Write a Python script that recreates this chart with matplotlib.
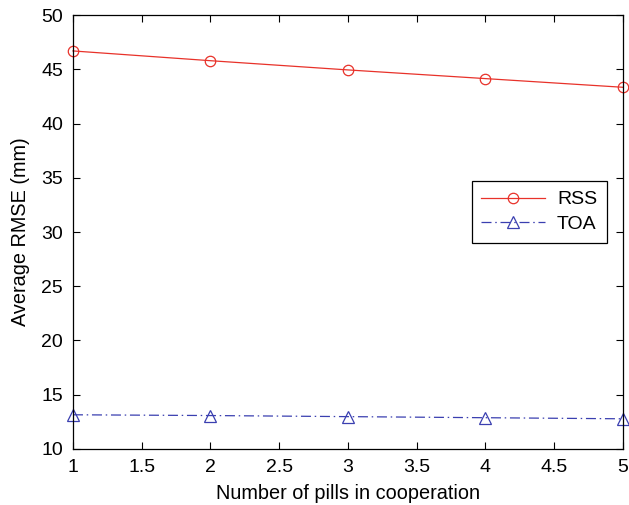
import matplotlib
matplotlib.use('Agg')
import matplotlib.pyplot as plt

plt.rcParams['font.family'] = ['Liberation Sans', 'DejaVu Sans']

pills = [1, 2, 3, 4, 5]
rss = [46.7, 45.8, 44.95, 44.15, 43.35]
toa = [13.15, 13.08, 12.98, 12.88, 12.78]

fig = plt.figure(figsize=(6.29, 5.05), dpi=100)
ax = fig.add_axes([0.116, 0.111, 0.874, 0.859])

ax.plot(pills, rss, color='#e8322a', linewidth=0.9, marker='o', markersize=7.5,
        markerfacecolor='none', markeredgecolor='#e8322a', markeredgewidth=0.9,
        label='RSS', clip_on=False)
ax.plot(pills, toa, color='#3a3fb0', linewidth=0.9, dashes=[8, 3, 1.2, 3],
        marker='^', markersize=8.5, markerfacecolor='none', markeredgecolor='#3a3fb0',
        markeredgewidth=0.9, label='TOA', clip_on=False)

ax.set_xlim(1, 5)
ax.set_ylim(10, 50)
ax.set_xticks([1, 1.5, 2, 2.5, 3, 3.5, 4, 4.5, 5])
ax.set_xticklabels(['1', '1.5', '2', '2.5', '3', '3.5', '4', '4.5', '5'])
ax.set_yticks(range(10, 51, 5))
ax.tick_params(direction='in', top=True, right=True, labelsize=14, length=5, width=0.8)
ax.tick_params(axis='x', pad=7)
ax.tick_params(axis='y', pad=7)
for s in ax.spines.values():
    s.set_linewidth(0.9)

ax.set_xlabel('Number of pills in cooperation', fontsize=14.3, labelpad=6)
ax.set_ylabel('Average RMSE (mm)', fontsize=14.3, labelpad=8)

leg = ax.legend(loc='upper left', bbox_to_anchor=(0.725, 0.6175), fontsize=14,
                fancybox=False, edgecolor='black', framealpha=1, handlelength=3.3,
                labelspacing=0.35, borderpad=0.5, borderaxespad=0, handletextpad=0.6)
leg.get_frame().set_linewidth(0.9)

fig.savefig('out.png', dpi=100)
